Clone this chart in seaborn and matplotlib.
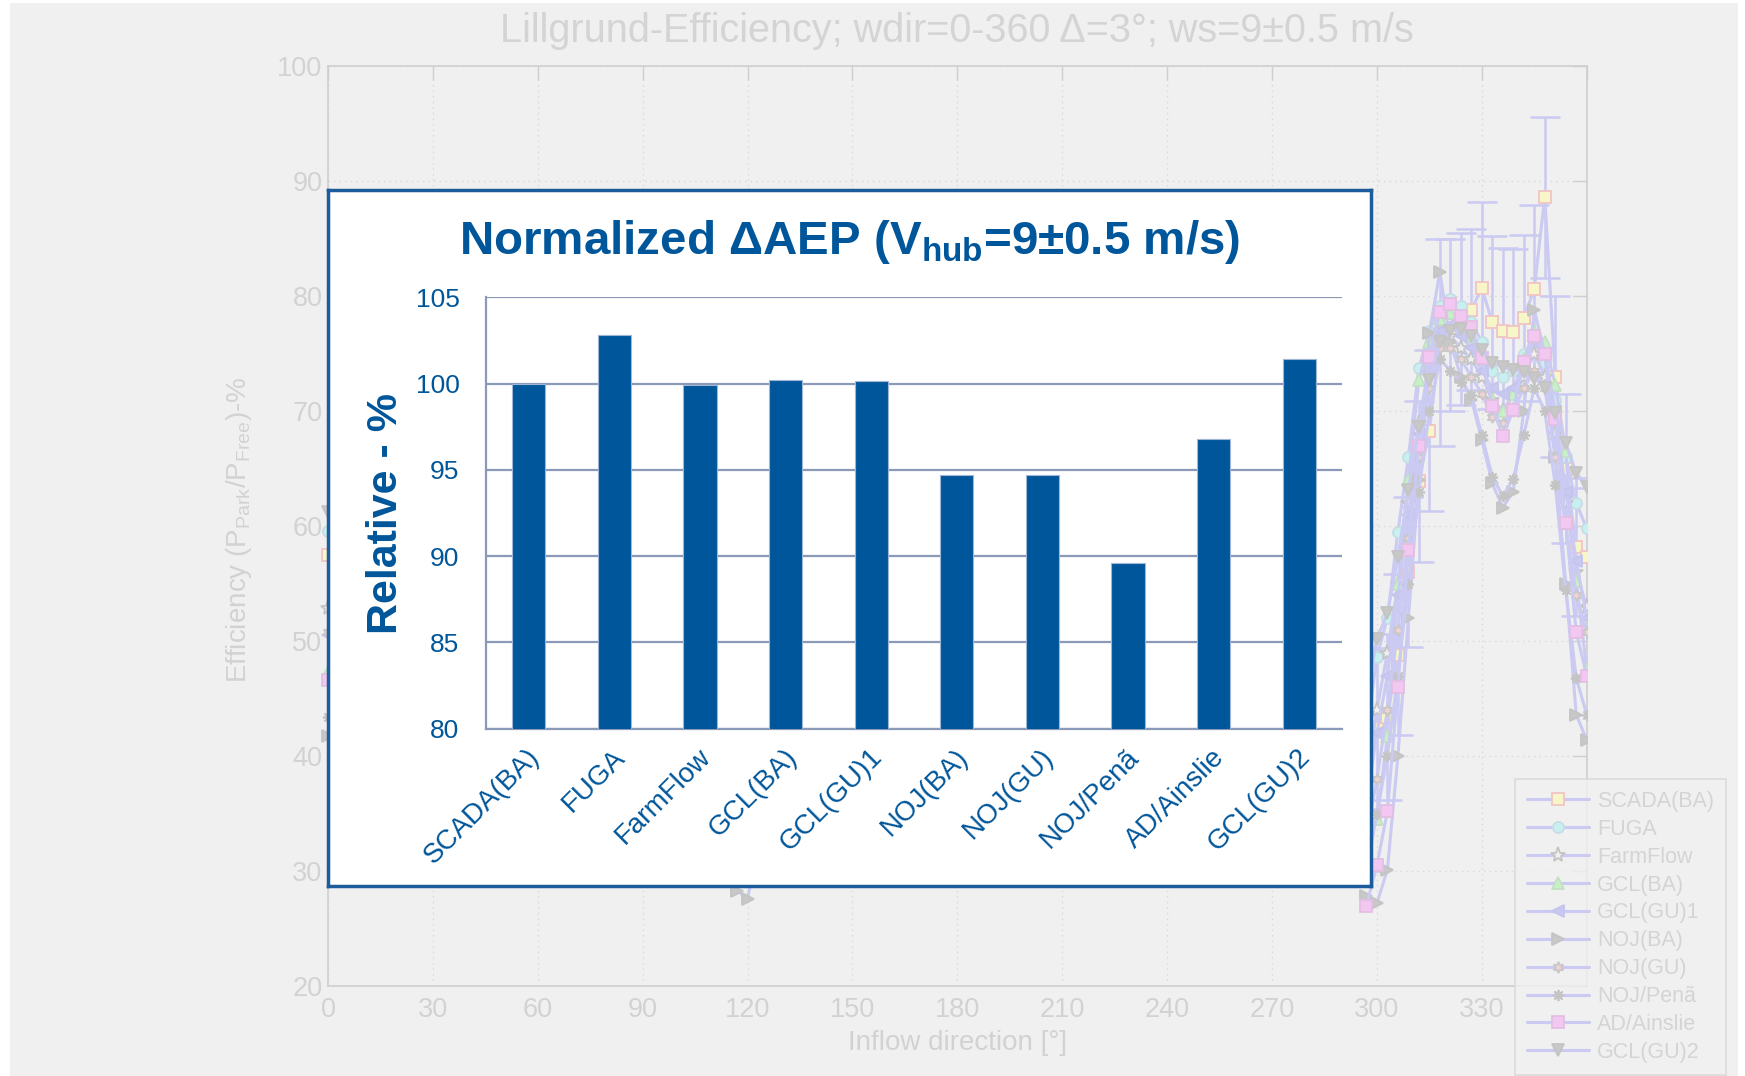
import numpy as np
import pandas as pd
import matplotlib
matplotlib.use("Agg")
import matplotlib.pyplot as plt
import seaborn as sns
from matplotlib.patches import Rectangle
from matplotlib.transforms import ScaledTranslation

# ---------------- inset bar chart data ----------------
MODELS = ['SCADA(BA)', 'FUGA', 'FarmFlow', 'GCL(BA)', 'GCL(GU)1',
          'NOJ(BA)', 'NOJ(GU)', 'NOJ/Penã', 'AD/Ainslie', 'GCL(GU)2']
RELATIVE_AEP = [100.0, 102.8, 99.9, 100.2, 100.15, 94.7, 94.7, 89.6, 96.8, 101.4]
REL_TICKS = [80, 85, 90, 95, 100, 105]

# ------------- background efficiency chart (visible sector) -------------
WDIR = [297, 300, 303, 306, 309, 312, 315, 318, 321, 324, 327,
        330, 333, 336, 339, 342, 345, 348, 351, 354, 357, 360]
EFF_SCADA = [37.0, 42.4, 43.4, 48.8, 56.0, 63.9, 68.3, 76.0, 77.5, 78.0, 78.8,
             80.7, 77.7, 77.0, 76.9, 78.1, 80.6, 88.6, 73.0, 65.0, 58.2, 57.3]
ERR_SCADA = [7.0, 7.0, 7.2, 7.0, 6.5, 7.0, 7.0, 9.0, 7.5, 7.5, 7.0,
             7.5, 7.5, 7.2, 7.2, 7.2, 7.3, 7.0, 7.0, 6.5, 6.0, 6.0]
EFF_FUGA = [42.0, 48.6, 52.0, 59.5, 66.0, 73.7, 77.0, 79.1, 79.7, 79.1, 77.7,
            76.0, 73.5, 73.0, 73.5, 75.0, 76.0, 74.2, 71.0, 66.0, 62.0, 59.8]
EFF_FARMFLOW = [38.0, 44.0, 49.0, 55.0, 62.0, 69.0, 74.0, 77.0, 76.5, 75.5, 74.5,
                73.0, 71.0, 70.0, 71.0, 73.0, 75.0, 73.0, 68.0, 62.0, 56.0, 53.0]
EFF_GCL_BA = [33.0, 34.5, 41.7, 55.0, 64.0, 72.7, 76.0, 78.0, 78.5, 77.5, 76.5,
              74.5, 71.0, 70.0, 71.5, 74.5, 77.0, 76.0, 72.3, 66.5, 55.2, 47.6]
EFF_GCL_GU1 = [36.0, 42.0, 47.0, 54.0, 61.0, 68.0, 73.5, 77.0, 77.5, 76.5, 75.5,
               73.5, 72.0, 71.5, 72.0, 74.0, 76.0, 75.0, 70.0, 63.0, 57.0, 52.0]
EFF_NOJ_BA = [27.8, 27.2, 30.1, 40.0, 52.0, 64.0, 76.8, 82.1, 76.0, 73.0, 71.0,
              67.5, 63.7, 61.6, 63.0, 70.0, 78.8, 75.0, 66.0, 55.0, 43.6, 41.4]
EFF_NOJ_GU = [33.0, 38.0, 44.0, 51.0, 59.0, 66.0, 72.0, 75.5, 75.5, 74.5, 73.0,
              71.5, 69.5, 69.0, 70.0, 72.0, 73.5, 72.0, 66.0, 60.0, 54.0, 50.8]
EFF_NOJ_PENA = [30.0, 35.0, 40.0, 47.0, 55.0, 63.0, 70.0, 74.5, 73.5, 72.5, 71.4,
                67.9, 64.3, 62.6, 64.1, 67.9, 72.0, 70.0, 63.6, 54.4, 46.8, 43.6]
EFF_AD_AINSLIE = [27.0, 30.5, 35.2, 46.0, 57.9, 67.0, 74.7, 78.6, 79.3, 78.3, 77.3,
                  74.6, 70.4, 67.8, 70.1, 74.3, 76.5, 75.0, 69.3, 60.3, 50.8, 47.0]
EFF_GCL_GU2 = [45.0, 50.2, 52.4, 57.3, 63.1, 68.6, 72.7, 76.0, 77.0, 77.1, 76.5,
               75.3, 74.2, 73.8, 73.6, 73.4, 72.9, 72.0, 69.8, 67.2, 64.6, 63.4]
EFF_AT_0DEG = [57.5, 59.6, 52.9, 47.3, 50.5, 41.7, 50.8, 43.4, 46.6, 61.2]
NOJBA_DIP_DIR = [114, 117, 120, 123]
NOJBA_DIP_EFF = [31.0, 28.3, 27.6, 32.0]
X_TICKS = [0, 30, 60, 90, 120, 150, 180, 210, 240, 270, 300, 330, 360]
X_TICKLABELS = ['0', '30', '60', '90', '120', '150', '180', '210', '240', '270', '300', '330', '']
Y_TICKS = [20, 30, 40, 50, 60, 70, 80, 90, 100]

SERIES = [EFF_SCADA, EFF_FUGA, EFF_FARMFLOW, EFF_GCL_BA, EFF_GCL_GU1,
          EFF_NOJ_BA, EFF_NOJ_GU, EFF_NOJ_PENA, EFF_AD_AINSLIE, EFF_GCL_GU2]

# ---------------- styling ----------------
sns.set_style("white")
plt.rcParams['font.family'] = ['Liberation Sans', 'DejaVu Sans']
plt.rcParams['mathtext.fontset'] = 'custom'
plt.rcParams['mathtext.rm'] = 'Liberation Sans'
plt.rcParams['mathtext.bf'] = 'Liberation Sans:bold'
plt.rcParams['mathtext.it'] = 'Liberation Sans:italic'

BLUE = '#00569a'
AXC = '#8a9ab8'
FADE = '#d2d2d2'
LINE_C = '#cacaf2'
GRID_C = '#d8d8d8'

MARKERS = {
    'SCADA(BA)': dict(marker='s', mfc='#f6f6c8', mec='#f2c4c4'),
    'FUGA': dict(marker='o', mfc='#c8f0f0', mec='#c6dde6'),
    'FarmFlow': dict(marker='*', mfc='#f0f0f0', mec='#c4c4c4'),
    'GCL(BA)': dict(marker='^', mfc='#c8f0c8', mec='#c4e0c4'),
    'GCL(GU)1': dict(marker='<', mfc='#c8c8f0', mec='#c4c4ec'),
    'NOJ(BA)': dict(marker='>', mfc='#c8c8c8', mec='#c4c4c4'),
    'NOJ(GU)': dict(marker=(6, 1, 0), mfc='#f2d2d2', mec='#c8c8c8'),
    'NOJ/Penã': dict(marker=(8, 2, 0), mfc='#c8c8c8', mec='#c4c4c4'),
    'AD/Ainslie': dict(marker='s', mfc='#f2c8f2', mec='#e2c0e2'),
    'GCL(GU)2': dict(marker='v', mfc='#c8c8c8', mec='#c4c4c4'),
}

W, H = 1745, 1076
fig = plt.figure(figsize=(W / 100, H / 100), dpi=100, facecolor='white')


def fx(px):
    return px / W


def fy(py):
    return 1 - py / H


fig.patches.append(Rectangle((fx(10), 0), fx(1738) - fx(10), fy(3), transform=fig.transFigure,
                             facecolor='#f0f0f0', edgecolor='none', zorder=-5))

# ---------------- background (faded) axes ----------------
ax = fig.add_axes([fx(328), fy(986), fx(1586.7) - fx(328), fy(66) - fy(986)])
ax.set_facecolor('#f0f0f0')
ax.errorbar(WDIR, EFF_SCADA, yerr=ERR_SCADA, fmt='none', ecolor=LINE_C,
            elinewidth=1.8, capsize=11, capthick=1.8, zorder=2)
handles = []
for name, vals, v0 in zip(MODELS, SERIES, EFF_AT_0DEG):
    st = MARKERS[name]
    ms = 11 if st['marker'] == '*' else 8
    h, = ax.plot(WDIR, vals, color=LINE_C, lw=2.2, marker=st['marker'], ms=ms,
                 mfc=st['mfc'], mec=st['mec'], mew=1.3, label=name, zorder=3)
    handles.append(h)
    ax.plot([0], [v0], ls='none', marker=st['marker'], ms=ms, mfc=st['mfc'],
            mec=st['mec'], mew=1.3, clip_on=False, zorder=3)
st = MARKERS['NOJ(BA)']
ax.plot(NOJBA_DIP_DIR, NOJBA_DIP_EFF, color=LINE_C, lw=2.2, marker=st['marker'], ms=8,
        mfc=st['mfc'], mec=st['mec'], mew=1.3, zorder=3)

ax.set_xlim(0, 360)
ax.set_ylim(20, 100)
ax.set_xticks(X_TICKS)
ax.set_xticklabels(X_TICKLABELS)
ax.set_yticks(Y_TICKS)
ax.tick_params(axis='both', direction='in', length=10, width=1, color='#cfcfcf',
               labelcolor=FADE, labelsize=19.5, top=True, right=True)
ax.tick_params(axis='x', pad=8)
ax.tick_params(axis='y', pad=4)
ax.grid(True, linestyle=(0, (1, 3)), color=GRID_C, lw=1)
for s in ax.spines.values():
    s.set_color('#cfcfcf')
    s.set_linewidth(1.2)
ax.set_xlabel('Inflow direction [°]', fontsize=20, color=FADE, labelpad=5)
fig.text(fx(239), fy(530), r'Efficiency (P$_{\mathrm{Park}}$/P$_{\mathrm{Free}}$)-%',
         rotation=90, ha='center', va='center', fontsize=20, color=FADE)
fig.text(fx(957), fy(31), 'Lillgrund-Efficiency; wdir=0-360 Δ=3°; ws=9±0.5 m/s',
         ha='center', va='center', fontsize=28.5, color='#d4d4d4')

leg = ax.legend(handles=handles, loc='upper left', bbox_to_anchor=(fx(1515), fy(779)),
                bbox_transform=fig.transFigure, borderaxespad=0, frameon=True,
                fancybox=False, facecolor='#f0f0f0', edgecolor='#d6d6d6',
                fontsize=15.5, labelcolor='#d4d4d4', handlelength=2.9,
                handletextpad=0.37, borderpad=0.55, labelspacing=0.32, numpoints=1)
leg.get_frame().set_linewidth(1.2)
leg.set_zorder(10)

# ---------------- inset frame ----------------
box = fig.add_axes([fx(328), fy(886), fx(1371) - fx(328), fy(190) - fy(886)])
box.set_facecolor('white')
box.set_xticks([])
box.set_yticks([])
for s in box.spines.values():
    s.set_color('#1d5c9c')
    s.set_linewidth(2.5)

# ---------------- inset bar chart ----------------
bax = fig.add_axes([fx(486), fy(728.7), fx(1342) - fx(486), fy(297.3) - fy(728.7)])
bax.set_facecolor('none')
df = pd.DataFrame({'model': MODELS, 'relative': RELATIVE_AEP})
sns.barplot(data=df, x='model', y='relative', ax=bax, color=BLUE, saturation=1,
            width=0.39, edgecolor='#9fb6d6', linewidth=0.8, zorder=3)
bax.set_ylim(80, 105)
bax.set_xlim(-0.5, 9.5)
bax.set_yticks(REL_TICKS)
bax.yaxis.grid(True, color=AXC, lw=1.6, zorder=0)
bax.xaxis.grid(False)
bax.set_axisbelow(True)
for side in ['top', 'right']:
    bax.spines[side].set_visible(False)
for side in ['left', 'bottom']:
    bax.spines[side].set_color(AXC)
    bax.spines[side].set_linewidth(1.6)
bax.set_xlabel('')
bax.set_ylabel('')
bax.set_xticks(np.arange(len(MODELS)))
bax.set_xticks(np.arange(len(MODELS) + 1) - 0.5, minor=True)
bax.tick_params(axis='x', which='major', length=0, pad=11)
bax.tick_params(axis='x', which='minor', length=8, width=1.6, color=AXC, direction='out')
bax.tick_params(axis='y', length=7, width=1.6, color=AXC, direction='out',
                labelcolor=BLUE, labelsize=19, pad=12)
bax.set_xticklabels(MODELS, rotation=45, ha='right', va='top', rotation_mode='anchor',
                    color=BLUE, fontsize=20)
shift = ScaledTranslation(-2 / 100, 0, fig.dpi_scale_trans)
for lab in bax.get_xticklabels():
    lab.set_transform(lab.get_transform() + shift)

fig.text(fx(849.5), fy(254), r'Normalized ΔAEP (V$_{\mathbf{hub}}$=9±0.5 m/s)',
         ha='center', va='baseline', fontsize=34.2, fontweight='bold', color=BLUE)
fig.text(fx(386), fy(513), 'Relative - %', rotation=90, ha='center', va='center',
         fontsize=31, fontweight='bold', color=BLUE)

fig.savefig('out.png', dpi=100, facecolor=fig.get_facecolor())
